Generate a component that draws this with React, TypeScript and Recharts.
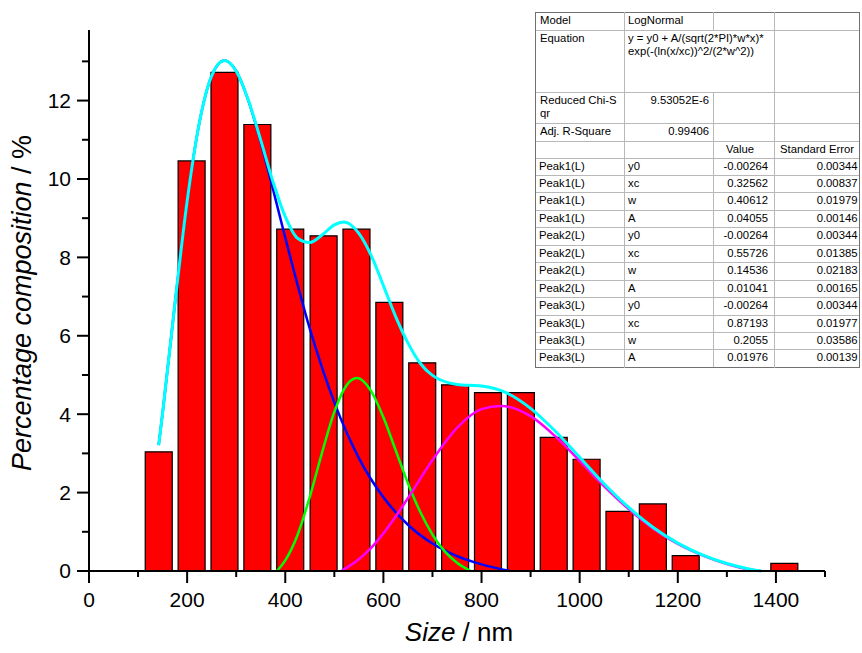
import React from 'react';
import { ComposedChart, Bar, Line, XAxis, YAxis } from 'recharts';

// histogram bins (centre of each bin, nm) and share of particles (%)
const binCenters = [142, 209, 276, 343, 410, 478, 545, 612, 679, 746, 813, 880, 947, 1014, 1081, 1149, 1216, 1283, 1350, 1417];
const binPercent = [3.04, 10.46, 12.72, 11.39, 8.72, 8.55, 8.72, 6.85, 5.31, 4.75, 4.55, 4.55, 3.41, 2.85, 1.52, 1.71, 0.39, 0, 0, 0.195];

// fitted curves
const peak1X = [142, 150, 175, 200, 225, 250, 276, 300, 325, 350, 375, 400, 450, 500, 550, 600, 650, 700, 750, 800, 858];
const peak1Y = [3.21, 4.03, 6.81, 9.43, 11.44, 12.63, 13.02, 12.75, 11.99, 10.94, 9.74, 8.5, 6.18, 4.3, 2.88, 1.88, 1.18, 0.7, 0.38, 0.17, 0];

const peak2X = [383, 400, 425, 450, 475, 500, 525, 546, 575, 600, 625, 650, 675, 700, 725, 750, 778];
const peak2Y = [0, 0.27, 0.92, 1.89, 3.02, 4.06, 4.74, 4.92, 4.59, 3.92, 3.08, 2.24, 1.51, 0.93, 0.5, 0.21, 0];

const peak3X = [514, 550, 575, 600, 625, 650, 700, 750, 800, 840, 900, 950, 1000, 1050, 1100, 1150, 1200, 1250, 1300, 1350, 1370];
const peak3Y = [0, 0.3, 0.59, 0.96, 1.39, 1.86, 2.83, 3.65, 4.13, 4.21, 3.95, 3.44, 2.81, 2.16, 1.58, 1.08, 0.69, 0.4, 0.18, 0.03, 0];

const sumX = [142, 150, 175, 200, 225, 250, 276, 300, 325, 350, 375, 400, 425, 450, 475, 500, 520, 550, 575, 600, 625, 650, 675, 700, 750, 800, 850, 900, 950, 1000, 1050, 1100, 1150, 1200, 1250, 1300, 1350, 1370];
const sumY = [3.21, 4.03, 6.81, 9.43, 11.44, 12.63, 13.02, 12.75, 12.0, 10.99, 9.93, 9.04, 8.49, 8.38, 8.57, 8.83, 8.9, 8.61, 8.05, 7.28, 6.49, 5.82, 5.3, 4.99, 4.76, 4.72, 4.55, 4.15, 3.57, 2.9, 2.22, 1.62, 1.11, 0.71, 0.41, 0.19, 0.04, 0];

const xTicks = [0, 100, 200, 300, 400, 500, 600, 700, 800, 900, 1000, 1100, 1200, 1300, 1400, 1500];
const yTicks = [0, 1, 2, 3, 4, 5, 6, 7, 8, 9, 10, 11, 12, 13];

// fit report table
const topRows = [
  ['Model', 'LogNormal'],
  ['Equation', 'y = y0 + A/(sqrt(2*PI)*w*x)*\nexp(-(ln(x/xc))^2/(2*w^2))'],
  ['Reduced Chi-S\nqr', '9.53052E-6'],
  ['Adj. R-Square', '0.99406'],
];
const peakNames = ['Peak1(L)', 'Peak2(L)', 'Peak3(L)'];
const paramNames = ['y0', 'xc', 'w', 'A'];
const fitValues = ['-0.00264', '0.32562', '0.40612', '0.04055', '-0.00264', '0.55726', '0.14536', '0.01041', '-0.00264', '0.87193', '0.2055', '0.01976'];
const fitErrors = ['0.00344', '0.00837', '0.01979', '0.00146', '0.00344', '0.01385', '0.02183', '0.00165', '0.00344', '0.01977', '0.03586', '0.00139'];

const FONT = "'Liberation Sans', Arial, sans-serif";

const barData = binCenters.map((x, i) => ({ x, pct: binPercent[i] }));
const pts = (xs: number[], ys: number[]) => xs.map((x, i) => ({ x, y: ys[i] }));

const XTick = (props: any) => {
  const { x, y, payload } = props;
  const major = payload.value % 200 === 0;
  return (
    <g>
      <line x1={x} x2={x} y1={y} y2={y + (major ? 12 : 6)} stroke="#000" strokeWidth={2} />
      {major && (
        <text x={x} y={y + 36} textAnchor="middle" fontSize={21} fontFamily={FONT} fill="#000">
          {payload.value}
        </text>
      )}
    </g>
  );
};

const YTick = (props: any) => {
  const { x, y, payload } = props;
  const major = payload.value % 2 === 0;
  return (
    <g>
      <line x1={x - (major ? 12 : 7)} x2={x} y1={y} y2={y} stroke="#000" strokeWidth={2} />
      {major && (
        <text x={x - 18} y={y} dy="0.35em" textAnchor="end" fontSize={21} fontFamily={FONT} fill="#000">
          {payload.value}
        </text>
      )}
    </g>
  );
};

const XTitle = () => (
  <text x={459} y={641} textAnchor="middle" fontSize={26} fontFamily={FONT} fill="#000">
    <tspan fontStyle="italic">Size</tspan>
    <tspan> / nm</tspan>
  </text>
);

const YTitle = () => (
  <text x={31} y={303} transform="rotate(-90, 31, 303)" textAnchor="middle" fontSize={27} fontFamily={FONT} fill="#000">
    <tspan fontStyle="italic">Percentage composition</tspan>
    <tspan> / %</tspan>
  </text>
);

// table geometry
const colX = [535, 624, 713, 774, 859];
const rowY = [12, 29.5, 92, 123, 140.5, 157.5];
const peakRowH = 17.45;

const FitTable = () => {
  const cells: React.ReactNode[] = [];
  const allRowY = [...rowY];
  for (let i = 1; i <= 12; i++) allRowY.push(157.5 + peakRowH * i);
  const top = allRowY[0];
  const bottom = allRowY[allRowY.length - 1];
  const txt = (key: string, left: number, width: number, y: number, s: string, align: 'left' | 'right') => (
    <div
      key={key}
      style={{
        position: 'absolute',
        left,
        top: y,
        width,
        textAlign: align,
        whiteSpace: 'pre',
        fontSize: 11.3,
        lineHeight: '13px',
        fontFamily: FONT,
        color: '#000',
      }}
    >
      {s}
    </div>
  );
  // horizontal lines
  allRowY.forEach((y, i) => {
    const outer = i === 0 || i === allRowY.length - 1;
    cells.push(
      <div key={`h${i}`} style={{ position: 'absolute', left: colX[0], top: y, width: colX[4] - colX[0], height: 1, background: outer ? '#707070' : '#b8b8b8' }} />
    );
  });
  // vertical lines
  colX.forEach((x, j) => {
    const outer = j === 0 || j === colX.length - 1;
    if (j === 2) {
      cells.push(<div key={`v${j}a`} style={{ position: 'absolute', left: x, top: top, width: 1, height: rowY[1] - top, background: '#b8b8b8' }} />);
      cells.push(<div key={`v${j}b`} style={{ position: 'absolute', left: x, top: rowY[2], width: 1, height: bottom - rowY[2], background: '#b8b8b8' }} />);
    } else {
      cells.push(<div key={`v${j}`} style={{ position: 'absolute', left: x, top: top, width: 1, height: bottom - top + 1, background: outer ? '#707070' : '#b8b8b8' }} />);
    }
  });
  topRows.forEach((r, i) => {
    const y = allRowY[i] + 2;
    cells.push(txt(`a${i}`, colX[0] + 5, 86, y, r[0], 'left'));
    const numeric = i >= 2;
    if (numeric) cells.push(txt(`b${i}`, colX[1], colX[2] - colX[1] - 4, y, r[1], 'right'));
    else cells.push(txt(`b${i}`, colX[1] + 4, 200, y, r[1], 'left'));
  });
  cells.push(txt('hv', colX[2] + 13, 50, allRowY[4] + 2, 'Value', 'left'));
  cells.push(txt('hs', colX[3] + 6, 84, allRowY[4] + 2, 'Standard Error', 'left'));
  fitValues.forEach((v, k) => {
    const y = allRowY[5 + k] + 2;
    cells.push(txt(`p${k}`, colX[0] + 4, 86, y, peakNames[Math.floor(k / 4)], 'left'));
    cells.push(txt(`q${k}`, colX[1] + 4, 80, y, paramNames[k % 4], 'left'));
    cells.push(txt(`v${k}`, colX[2], colX[3] - colX[2] - 6, y, v, 'right'));
    cells.push(txt(`e${k}`, colX[3], colX[4] - colX[3] - 1.5, y, fitErrors[k], 'right'));
  });
  return (
    <div style={{ position: 'absolute', left: 0, top: 0 }}>
      <div style={{ position: 'absolute', left: colX[0], top, width: colX[4] - colX[0], height: bottom - top, background: '#fff' }} />
      {cells}
    </div>
  );
};

export default function App() {
  return (
    <div style={{ position: 'absolute', left: 0, top: 0, width: 862, height: 653, overflow: 'hidden', background: '#fff' }}>
      <ComposedChart width={862} height={653} data={barData} margin={{ top: 30, right: 37, bottom: 42, left: 29 }}>
        <XAxis
          xAxisId="curve"
          dataKey="x"
          type="number"
          domain={[0, 1500]}
          ticks={xTicks}
          interval={0}
          tick={<XTick />}
          tickLine={false}
          tickSize={0}
          tickMargin={0}
          height={40}
          axisLine={{ stroke: '#000', strokeWidth: 2 }}
          label={<XTitle />}
        />
        <XAxis xAxisId="bars" dataKey="x" type="number" domain={[0, 1500]} height={0} hide />
        <YAxis
          type="number"
          domain={[0, 13.8]}
          ticks={yTicks}
          interval={0}
          tick={<YTick />}
          tickLine={false}
          tickSize={0}
          tickMargin={0}
          width={60}
          axisLine={{ stroke: '#000', strokeWidth: 2 }}
          label={<YTitle />}
        />
        <Bar xAxisId="bars" dataKey="pct" fill="#ff0000" stroke="#000" strokeWidth={1.2} barSize={27} isAnimationActive={false} />
        <Line xAxisId="curve" data={pts(peak1X, peak1Y)} dataKey="y" type="monotone" stroke="#0000ff" strokeWidth={2.5} dot={false} isAnimationActive={false} />
        <Line xAxisId="curve" data={pts(peak2X, peak2Y)} dataKey="y" type="monotone" stroke="#00ff00" strokeWidth={2.5} dot={false} isAnimationActive={false} />
        <Line xAxisId="curve" data={pts(peak3X, peak3Y)} dataKey="y" type="monotone" stroke="#ff00ff" strokeWidth={2.5} dot={false} isAnimationActive={false} />
        <Line xAxisId="curve" data={pts(sumX, sumY)} dataKey="y" type="monotone" stroke="#00ffff" strokeWidth={3} dot={false} isAnimationActive={false} />
      </ComposedChart>
      <FitTable />
    </div>
  );
}
